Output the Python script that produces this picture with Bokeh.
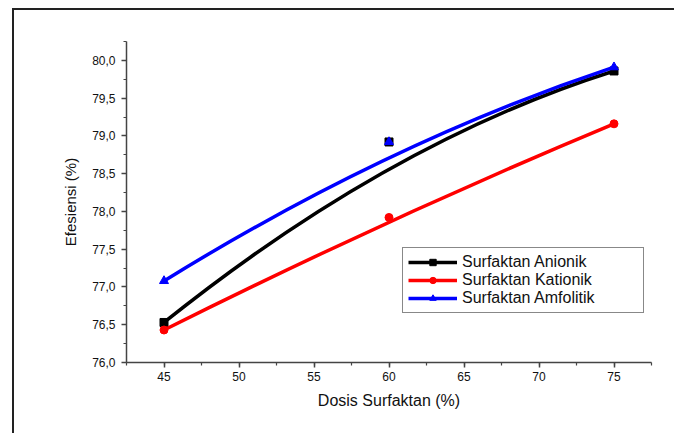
from bokeh.plotting import figure
from bokeh.models import FixedTicker, Range1d, Legend, LegendItem
from bokeh.embed import file_html
from bokeh.resources import INLINE

# ---- data ----
dosis = [45, 60, 75]
anionik = [76.53, 78.92, 79.86]
kationik = [76.43, 77.92, 79.16]
amfolitik = [77.08, 78.92, 79.91]

x_ticks = [45, 50, 55, 60, 65, 70, 75]
x_labels = ["45", "50", "55", "60", "65", "70", "75"]
y_ticks = [76.0, 76.5, 77.0, 77.5, 78.0, 78.5, 79.0, 79.5, 80.0]
y_labels = ["76,0", "76,5", "77,0", "77,5", "78,0", "78,5", "79,0", "79,5", "80,0"]

series = [
    ("Surfaktan Anionik", anionik, "#000000", "square", 8),
    ("Surfaktan Kationik", kationik, "#ff0000", "circle", 8),
    ("Surfaktan Amfolitik", amfolitik, "#0000ff", "triangle", 9),
]

FONT = "Liberation Sans"

p = figure(width=662, height=425, output_backend="svg", toolbar_location=None,
           x_range=Range1d(42.5, 77.5), y_range=Range1d(76.0, 80.25),
           min_border_left=112, min_border_right=25, min_border_top=31, min_border_bottom=73)
p.margin = (8, 0, 0, 12)
p.styles = {"border-left": "2px solid #222222", "border-top": "2px solid #222222"}
p.outline_line_color = None
p.grid.visible = False
p.background_fill_color = "white"
p.border_fill_color = "white"

p.xaxis.ticker = FixedTicker(ticks=x_ticks, minor_ticks=[42.5 + 2.5 * i for i in range(15)])
p.xaxis.major_label_overrides = dict(zip(x_ticks, x_labels))
p.yaxis.ticker = FixedTicker(ticks=y_ticks, minor_ticks=[76.0 + 0.25 * i for i in range(18)])
p.yaxis.major_label_overrides = dict(zip(y_ticks, y_labels))

for ax in (p.xaxis, p.yaxis):
    ax.axis_line_color = "#444444"
    ax.axis_line_width = 1.5
    ax.major_tick_line_color = "#444444"
    ax.minor_tick_line_color = "#444444"
    ax.major_tick_line_width = 1.5
    ax.minor_tick_line_width = 1.2
    ax.major_tick_in = 0
    ax.major_tick_out = 5
    ax.minor_tick_in = 0
    ax.minor_tick_out = 3
    ax.major_label_text_font = FONT
    ax.major_label_text_font_size = "12px"
    ax.major_label_text_color = "#111111"
    ax.axis_label_text_font = FONT
    ax.axis_label_text_font_style = "normal"
    ax.axis_label_text_color = "#111111"

p.xaxis.axis_label = "Dosis Surfaktan (%)"
p.xaxis.axis_label_text_font_size = "16px"
p.xaxis.major_label_standoff = 4
p.xaxis.axis_label_standoff = 8
p.yaxis.axis_label = "Efesiensi (%)"
p.yaxis.axis_label_text_font_size = "15px"
p.yaxis.major_label_standoff = 6
p.yaxis.axis_label_standoff = 10

items = []
for name, ys, color, marker, size in series:
    c = p.quadratic(x0=dosis[0], y0=ys[0], cx=dosis[1], cy=ys[1], x1=dosis[2], y1=ys[2],
                    line_color=color, line_width=3.5)
    s = p.scatter(dosis, ys, marker=marker, size=size, fill_color=color, line_color=color)
    items.append(LegendItem(label=name, renderers=[c, s]))

legend = Legend(items=items, location=(276, 49))
legend.border_line_color = "#111111"
legend.border_line_width = 1
legend.padding = 5
legend.margin = 0
legend.spacing = 0
legend.glyph_width = 49
legend.glyph_height = 16
legend.label_height = 16
legend.label_width = 176
legend.label_standoff = 5
legend.label_text_font = FONT
legend.label_text_font_size = "16px"
legend.label_text_color = "#111111"
legend.background_fill_alpha = 1
p.add_layout(legend, "center")

open("out.html", "w").write(file_html(p, INLINE))
